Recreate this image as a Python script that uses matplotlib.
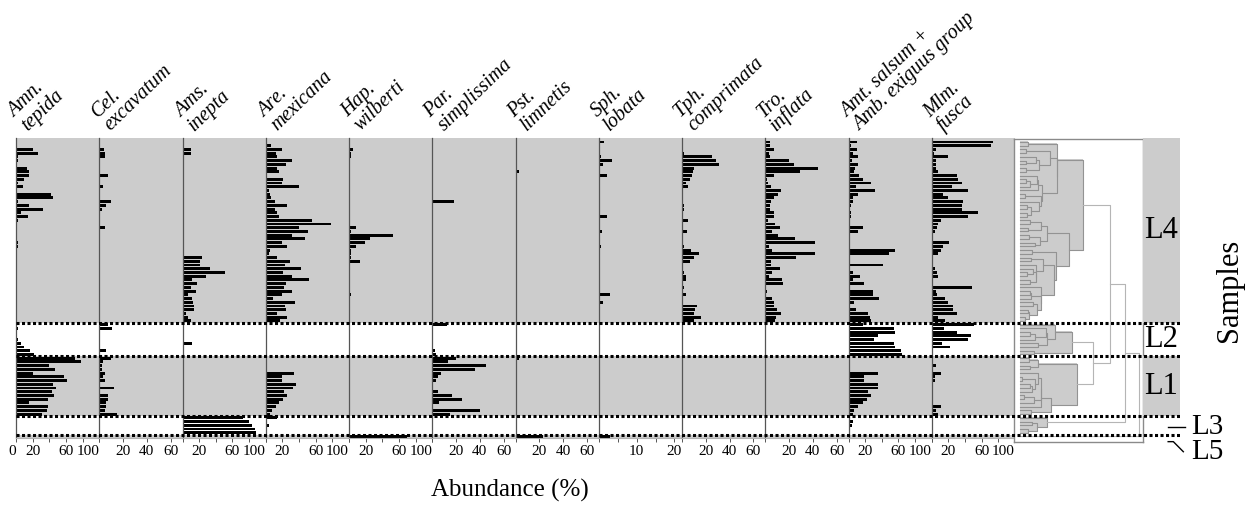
import numpy as np
import matplotlib
matplotlib.use("Agg")
import matplotlib.pyplot as plt
from matplotlib.patches import Rectangle

plt.rcParams['font.family'] = ['Liberation Serif', 'DejaVu Serif']

W, H = 1250, 511

taxa = [("Amn.", "tepida"), ("Cel.", "excavatum"), ("Ams.", "inepta"), ("Are.", "mexicana"),
        ("Hap.", "wilberti"), ("Par.", "simplissima"), ("Pst.", "limnetis"), ("Sph.", "lobata"),
        ("Tph.", "comprimata"), ("Tro.", "inflata"), ("Amt. salsum +", "Amb. exiguus group"),
        ("Mlm.", "fusca")]
xmax = [100, 70, 100, 100, 100, 70, 70, 22, 70, 70, 100, 100]
ticks = [[0, 20, 40, 60, 80, 100], [0, 20, 40, 60], [0, 20, 40, 60, 80, 100],
         [0, 20, 40, 60, 80, 100], [0, 20, 40, 60, 80, 100], [0, 20, 40, 60],
         [0, 20, 40, 60], [0, 5, 10, 15, 20], [0, 20, 40, 60], [0, 20, 40, 60],
         [0, 20, 40, 60, 80, 100], [0, 20, 40, 60, 80, 100]]
shown = [[0, 20, 60, 100], [20, 40, 60], [20, 60, 100], [20, 60, 100], [20, 60, 100],
         [20, 40, 60], [20, 40, 60], [10, 20], [20, 40, 60], [20, 40, 60],
         [20, 60, 100], [20, 60, 100]]

zones = ["L4", "L2", "L1", "L3", "L5"]
zone_sizes = [49, 9, 16, 5, 1]
zone_grey = [True, False, True, False, True]
zone_tree_h = [0.53, 0.44, 0.48, 0.23, 0.0]
top_pairs = [("L2", "L1"), ("L4", "L2+L1"), ("L4+L2+L1", "L3"), ("L4+L2+L1+L3", "L5")]
top_heights = [0.61, 0.76, 0.88, 1.0]

# abundance (%) per sample, top (0) to bottom (79)
amn_tepida = [0, 0, 21, 27, 3, 2, 1, 13, 16, 16,
              10, 3, 9, 0, 42, 45, 3, 16, 33, 6,
              15, 3, 0, 0, 1, 0, 0, 2, 2, 0,
              0, 0, 0, 0, 0, 0, 0, 0, 0, 0,
              0, 0, 0, 0, 0, 0, 0, 0, 0, 0,
              3, 0, 0, 3, 6, 10, 17, 22, 71, 78,
              40, 47, 20, 58, 61, 44, 48, 43, 46, 39,
              16, 38, 37, 31, 0, 0, 0, 0, 0, 0]
cel_excavatum = [0, 0, 4, 5, 5, 0, 0, 0, 0, 7,
                 0, 1, 3, 0, 0, 0, 10, 6, 2, 0,
                 1, 0, 0, 5, 1, 0, 0, 0.5, 0, 0,
                 0, 0, 0, 0, 0, 0, 0, 0, 0, 0,
                 0, 0, 0, 0, 0, 0, 0, 0, 0, 7,
                 11, 0, 0, 1, 0, 0, 6, 0, 10, 3,
                 2.5, 2.5, 4.5, 3, 4.5, 1, 12, 1, 7, 7,
                 6, 6, 5, 15, 0, 0, 0, 0, 0, 0]
ams_inepta = [0, 0, 10, 10, 2, 0, 0, 0, 0, 0,
              0, 0, 1, 0, 0, 0, 0, 0, 0, 0,
              0, 0, 0, 1.6, 1.6, 0, 0, 0, 0, 0,
              0, 24, 21, 21, 33, 51, 28, 11, 18, 10,
              16, 7, 12, 13, 14, 14, 4, 7, 10, 0,
              0, 0, 0, 0, 11, 0, 0, 0, 0, 0,
              0, 0, 0, 0, 0, 0, 0, 0, 0, 0,
              0, 0, 0, 0, 73, 80, 84, 87, 88, 0]
are_mexicana = [0, 6, 20, 12, 13, 32, 24, 14, 16, 1,
                21, 19, 40, 4, 5, 6, 11, 25, 11, 14,
                16, 56, 78, 40, 51, 31, 47, 20, 26, 5,
                4, 14, 29, 23, 42, 21, 32, 52, 24, 22,
                31, 20, 9, 35, 23, 24, 13, 25, 17, 0,
                0, 0, 0, 0, 0, 0, 0, 0, 0, 0,
                1, 0, 34, 19, 19, 36, 33, 22, 26, 21,
                16, 12, 7, 5, 13, 0, 4, 0, 0, 0]
hap_wilberti = [0, 0, 5, 3, 2, 0, 0, 1, 1, 1,
                0, 0, 0, 0, 0, 0, 1, 0, 0, 0,
                0, 0, 0, 8, 3, 53, 25, 19, 9, 3,
                2, 2, 13, 0, 0, 0, 0, 0, 0, 0,
                0, 2, 1, 0, 0, 0, 0, 0, 0, 0,
                0, 0, 0, 0, 0, 0, 0, 0, 0, 0,
                0, 0, 0, 0, 0, 0, 0, 0, 0, 0,
                0, 0, 0, 0, 0, 0, 0, 0, 0, 70]
par_simplissima = [0, 0, 0, 0, 0, 0, 0, 0, 0, 0,
                   0, 0, 0, 0, 0, 0.5, 18, 0, 0, 0,
                   0, 0, 0, 0, 0, 0, 0, 0, 0, 0,
                   0, 0, 0, 0, 0, 0, 0, 0, 0, 0,
                   0, 0, 0, 0, 0, 0, 0, 0, 0, 12,
                   0, 0, 0, 1, 0, 0, 2, 3, 20, 13,
                   45, 36, 7, 5, 3, 0, 0.5, 5, 17, 25,
                   6, 0, 40, 15, 0, 0, 0, 0, 0, 0]
pst_limnetis = [0, 0, 0, 0, 0, 0, 0.5, 0, 3, 0,
                0, 0, 0, 0, 0, 0, 0, 0, 0, 0,
                0, 0, 0, 0, 0, 0, 0, 0.5, 0, 0,
                0, 0, 0, 0, 0, 0, 0, 0, 0, 0,
                0, 0, 0, 0, 0, 0, 0, 0, 0, 0,
                0, 0, 0, 0, 0, 0, 0, 0, 3, 0,
                0, 0, 0, 0, 0, 0, 0, 0, 0, 0,
                0, 0, 0, 0, 0, 0, 0, 0, 0, 23]
sph_lobata = [1.3, 0, 0, 0, 0.6, 3.4, 1.1, 0, 0, 2.1,
              0, 0, 0, 0.4, 0, 0, 0, 0, 0, 0.4,
              2.2, 0, 0, 0.3, 0.8, 0, 0, 0, 0.7, 0,
              0, 0, 0, 0, 0, 0, 0, 0, 0, 0,
              0, 3.1, 0, 1.2, 0, 0, 0, 0, 0, 0,
              0, 0, 0, 0, 0, 0, 0, 0, 0, 0,
              0, 0, 0, 0, 0, 0, 0, 0, 0, 0,
              0, 0, 0, 0, 0, 0, 0, 0, 0, 3.0]
tph_comprimata = [0, 0, 0, 1.4, 25, 29, 31, 10, 9, 8,
                  7, 3.4, 5, 0, 0, 0.5, 0, 1.4, 1.4, 1.2,
                  0, 5, 0, 0.8, 4, 0, 0, 0, 2, 7.5,
                  14, 10, 7, 0, 0, 2, 3, 3.6, 0, 1.4,
                  0, 3.6, 1, 0, 13, 11, 10, 16, 10, 0,
                  0, 0, 0, 0, 0, 0, 0, 0, 0, 0,
                  0, 0, 0, 0, 0, 0, 0, 0, 0, 0,
                  0, 0, 0, 0, 1, 0, 0, 0, 0, 0]
tro_inflata = [4, 4, 7, 3, 4, 20, 24, 44, 29, 7,
               1.4, 2, 5, 13, 11, 7, 5, 4, 4, 7.6,
               7.6, 2, 8, 12.6, 5.6, 11, 25, 42, 3, 6,
               42, 26, 5, 5, 12.6, 5.6, 3.4, 14, 15, 0,
               1.4, 0, 5.6, 7.6, 7.6, 10, 13, 9, 8.4, 0,
               0, 0, 0, 0, 0, 0, 0, 0, 0, 0,
               0, 0, 0, 0, 0, 0, 0, 0, 0, 0,
               0, 0, 0, 0, 0, 0, 0, 0, 0, 0]
amt_salsum = [10, 3, 10, 6, 11, 4, 12, 8, 7, 13,
              18, 27, 9, 32, 12, 5, 6, 3, 2, 3,
              3, 0, 0, 18, 12, 0, 0, 2, 2, 56,
              49, 0, 0, 41, 0, 6, 14, 6, 19, 0,
              29, 30, 37, 7, 0, 9, 23, 26, 27, 18,
              55, 56, 36, 31, 55, 56, 63, 64, 0, 0,
              2, 0, 35, 19, 19, 36, 35, 23, 27, 22,
              17, 12, 7, 6, 0, 6, 4, 2, 0, 0.5]
mlm_fusca = [74, 71, 5, 3, 20, 5, 5, 5, 8, 30,
             32, 36, 24, 43, 14, 20, 37, 36, 36, 56,
             44, 11, 7, 6, 4, 0, 1, 21, 13, 11,
             7, 1, 0, 0, 4, 6, 8, 0, 0, 48,
             5, 6, 16, 19, 26, 26, 30, 7, 16, 51,
             15, 30, 47, 44, 12, 22, 2, 0, 0, 0,
             5, 0, 11, 4, 4, 0, 1, 0, 0, 0,
             0, 11, 5, 8, 0, 0.5, 0.5, 0, 0, 0]

series = [amn_tepida, cel_excavatum, ams_inepta, are_mexicana, hap_wilberti,
          par_simplissima, pst_limnetis, sph_lobata, tph_comprimata, tro_inflata,
          amt_salsum, mlm_fusca]
data = np.array(series, dtype=float).T
n = data.shape[0]
idx = np.arange(n)

GREY = '#cccccc'
TOP, BOT = 138.3, 438.3
YLIM = (n - 0.5, -1.0)
ppu = (BOT - TOP) / (YLIM[0] - YLIM[1])

fig = plt.figure(figsize=(W / 100, H / 100), dpi=100)


def px_axes(x0, y0, x1, y1):
    return fig.add_axes([x0 / W, 1 - y1 / H, (x1 - x0) / W, (y1 - y0) / H])


starts = np.cumsum([0] + zone_sizes)
bounds = starts[1:-1] - 0.5

# ---- abundance panels
pw = 83.25
ang = 44
lh = 19.0
for i, (l1, l2) in enumerate(taxa):
    x0 = 16 + pw * i
    ax = px_axes(x0, TOP, x0 + pw, BOT)
    ax.set_xlim(0, xmax[i])
    ax.set_ylim(*YLIM)
    for k in range(len(zones)):
        if zone_grey[k]:
            lo = YLIM[1] if k == 0 else starts[k] - 0.5
            ax.axhspan(lo, starts[k + 1] - 0.5, color=GREY, lw=0, zorder=0)
    ax.barh(idx, data[:, i], height=0.78, color='black', zorder=2)
    for s in ['top', 'right']:
        ax.spines[s].set_visible(False)
    ax.spines['bottom'].set_color('#b0b0b0')
    ax.spines['bottom'].set_linewidth(0.8)
    ax.spines['left'].set_color('#555555')
    ax.spines['left'].set_linewidth(0.9)
    ax.set_yticks([])
    labs = [('%g' % v) if v in shown[i] else '' for v in ticks[i]]
    ax.set_xticks(ticks[i], labels=labs)
    for t in ax.get_xticklabels():
        if t.get_text() in ('100', '0'):
            t.set_ha('right')
    ax.tick_params(axis='x', length=3, width=0.7, color='#555555', labelsize=11, pad=2)
    ax.set_facecolor('white')
    # two-line species name, second line offset perpendicular to the text direction
    bx, by = x0 + 15, 135
    ox, oy = lh * np.sin(np.radians(ang)), lh * np.cos(np.radians(ang))
    for txt, (px, py) in [(l2, (bx, by)), (l1, (bx - ox, by - oy))]:
        fig.text(px / W, 1 - py / H, txt, rotation=ang, rotation_mode='anchor',
                 ha='left', va='bottom', fontsize=14.5, style='italic')

# ---- dendrogram (constrained clustering inside each zone)
dx0, dx1, dy0, dy1 = 1014, 1142.7, 139.3, 441.7
dax = px_axes(dx0, dy0, dx1, dy1)
dax.set_ylim(YLIM[0] + (dy1 - BOT) / ppu, YLIM[1] + (dy0 - TOP) / ppu)
dax.set_xlim(-6 / 119, (dx1 - 1020) / 119)
dax.set_xticks([])
dax.set_yticks([])
for s in dax.spines.values():
    s.set_color('#8a8a8a')
    s.set_linewidth(1.0)

roots = {}
tx = np.sqrt(data / 100.0)
for k, z in enumerate(zones):
    rows = list(range(starts[k], starts[k + 1]))
    nodes = [dict(y=float(r), h=0.0, n=1, m=tx[r].copy(), kids=None) for r in rows]
    links = []
    while len(nodes) > 1:
        costs = [a['n'] * b['n'] / (a['n'] + b['n']) * np.sum((a['m'] - b['m']) ** 2)
                 for a, b in zip(nodes[:-1], nodes[1:])]
        j = int(np.argmin(costs))
        a, b = nodes[j], nodes[j + 1]
        nn = a['n'] + b['n']
        h = max(np.sqrt(2 * costs[j]), a['h'], b['h'])
        new = dict(y=(a['y'] + b['y']) / 2, h=h, n=nn,
                   m=(a['m'] * a['n'] + b['m'] * b['n']) / nn, kids=(a, b))
        links.append(new)
        nodes[j:j + 2] = [new]
    root = nodes[0]
    if links:
        f = zone_tree_h[k] / root['h']
        for L in links:
            L['h'] *= f
        for L in links:
            a, b = L['kids']
            dax.add_patch(Rectangle((0, a['y'] - 0.2), L['h'], b['y'] - a['y'] + 0.4,
                                    fc=GREY, ec='none', zorder=1))
        for L in links:
            a, b = L['kids']
            dax.plot([a['h'], L['h'], L['h'], b['h']], [a['y'], a['y'], b['y'], b['y']],
                     color='#939393', lw=0.8, zorder=2)
    roots[z] = root

for (a_name, b_name), h in zip(top_pairs, top_heights):
    a, b = roots[a_name], roots[b_name]
    dax.plot([a['h'], h, h, b['h']], [a['y'], a['y'], b['y'], b['y']],
             color='#b5b5b5', lw=0.8, zorder=2)
    roots[a_name + '+' + b_name] = dict(y=(a['y'] + b['y']) / 2, h=h)

# ---- zone strip
sax = px_axes(1143, TOP, 1180, BOT)
sax.set_xlim(0, 1)
sax.set_ylim(*YLIM)
sax.axis('off')
for k, z in enumerate(zones):
    lo = YLIM[1] if k == 0 else starts[k] - 0.5
    hi = starts[k + 1] - 0.5
    if z in ("L4", "L1"):
        sax.axhspan(lo, hi, color=GREY, lw=0)
    if z in ("L4", "L2", "L1"):
        sax.text(0.5, (lo + hi) / 2, z, ha='center', va='center', fontsize=22)
l3 = starts[3] + 2
sax.plot([0.68, 1.14], [l3 + 0.4, l3 + 0.4], color='black', lw=1, clip_on=False)
sax.text(1.73, l3 + 0.6, "L3", ha='center', va='center', fontsize=21, clip_on=False)
l5 = starts[4]
sax.plot([0.68, 0.82, 1.09], [l5 + 1.4, l5 + 1.4, l5 + 4.1], color='black', lw=1, clip_on=False)
sax.text(1.73, l5 + 4.3, "L5", ha='center', va='center', fontsize=21, clip_on=False)

# ---- dotted zone boundaries across everything
oax = px_axes(16, TOP, 1180, BOT)
oax.set_ylim(*YLIM)
oax.set_xlim(0, 1)
oax.axis('off')
oax.patch.set_alpha(0)
oax.hlines(bounds, 0, 1, colors='black', lw=2.2, linestyles=(0, (1, 0.8)))

fig.text(510 / W, 1 - 490 / H, "Abundance (%)", ha='center', va='center', fontsize=18)
fig.text(1230 / W, 1 - 290 / H, "Samples", ha='center', va='center', fontsize=22,
         rotation=90)

fig.savefig("out.png", dpi=100)
